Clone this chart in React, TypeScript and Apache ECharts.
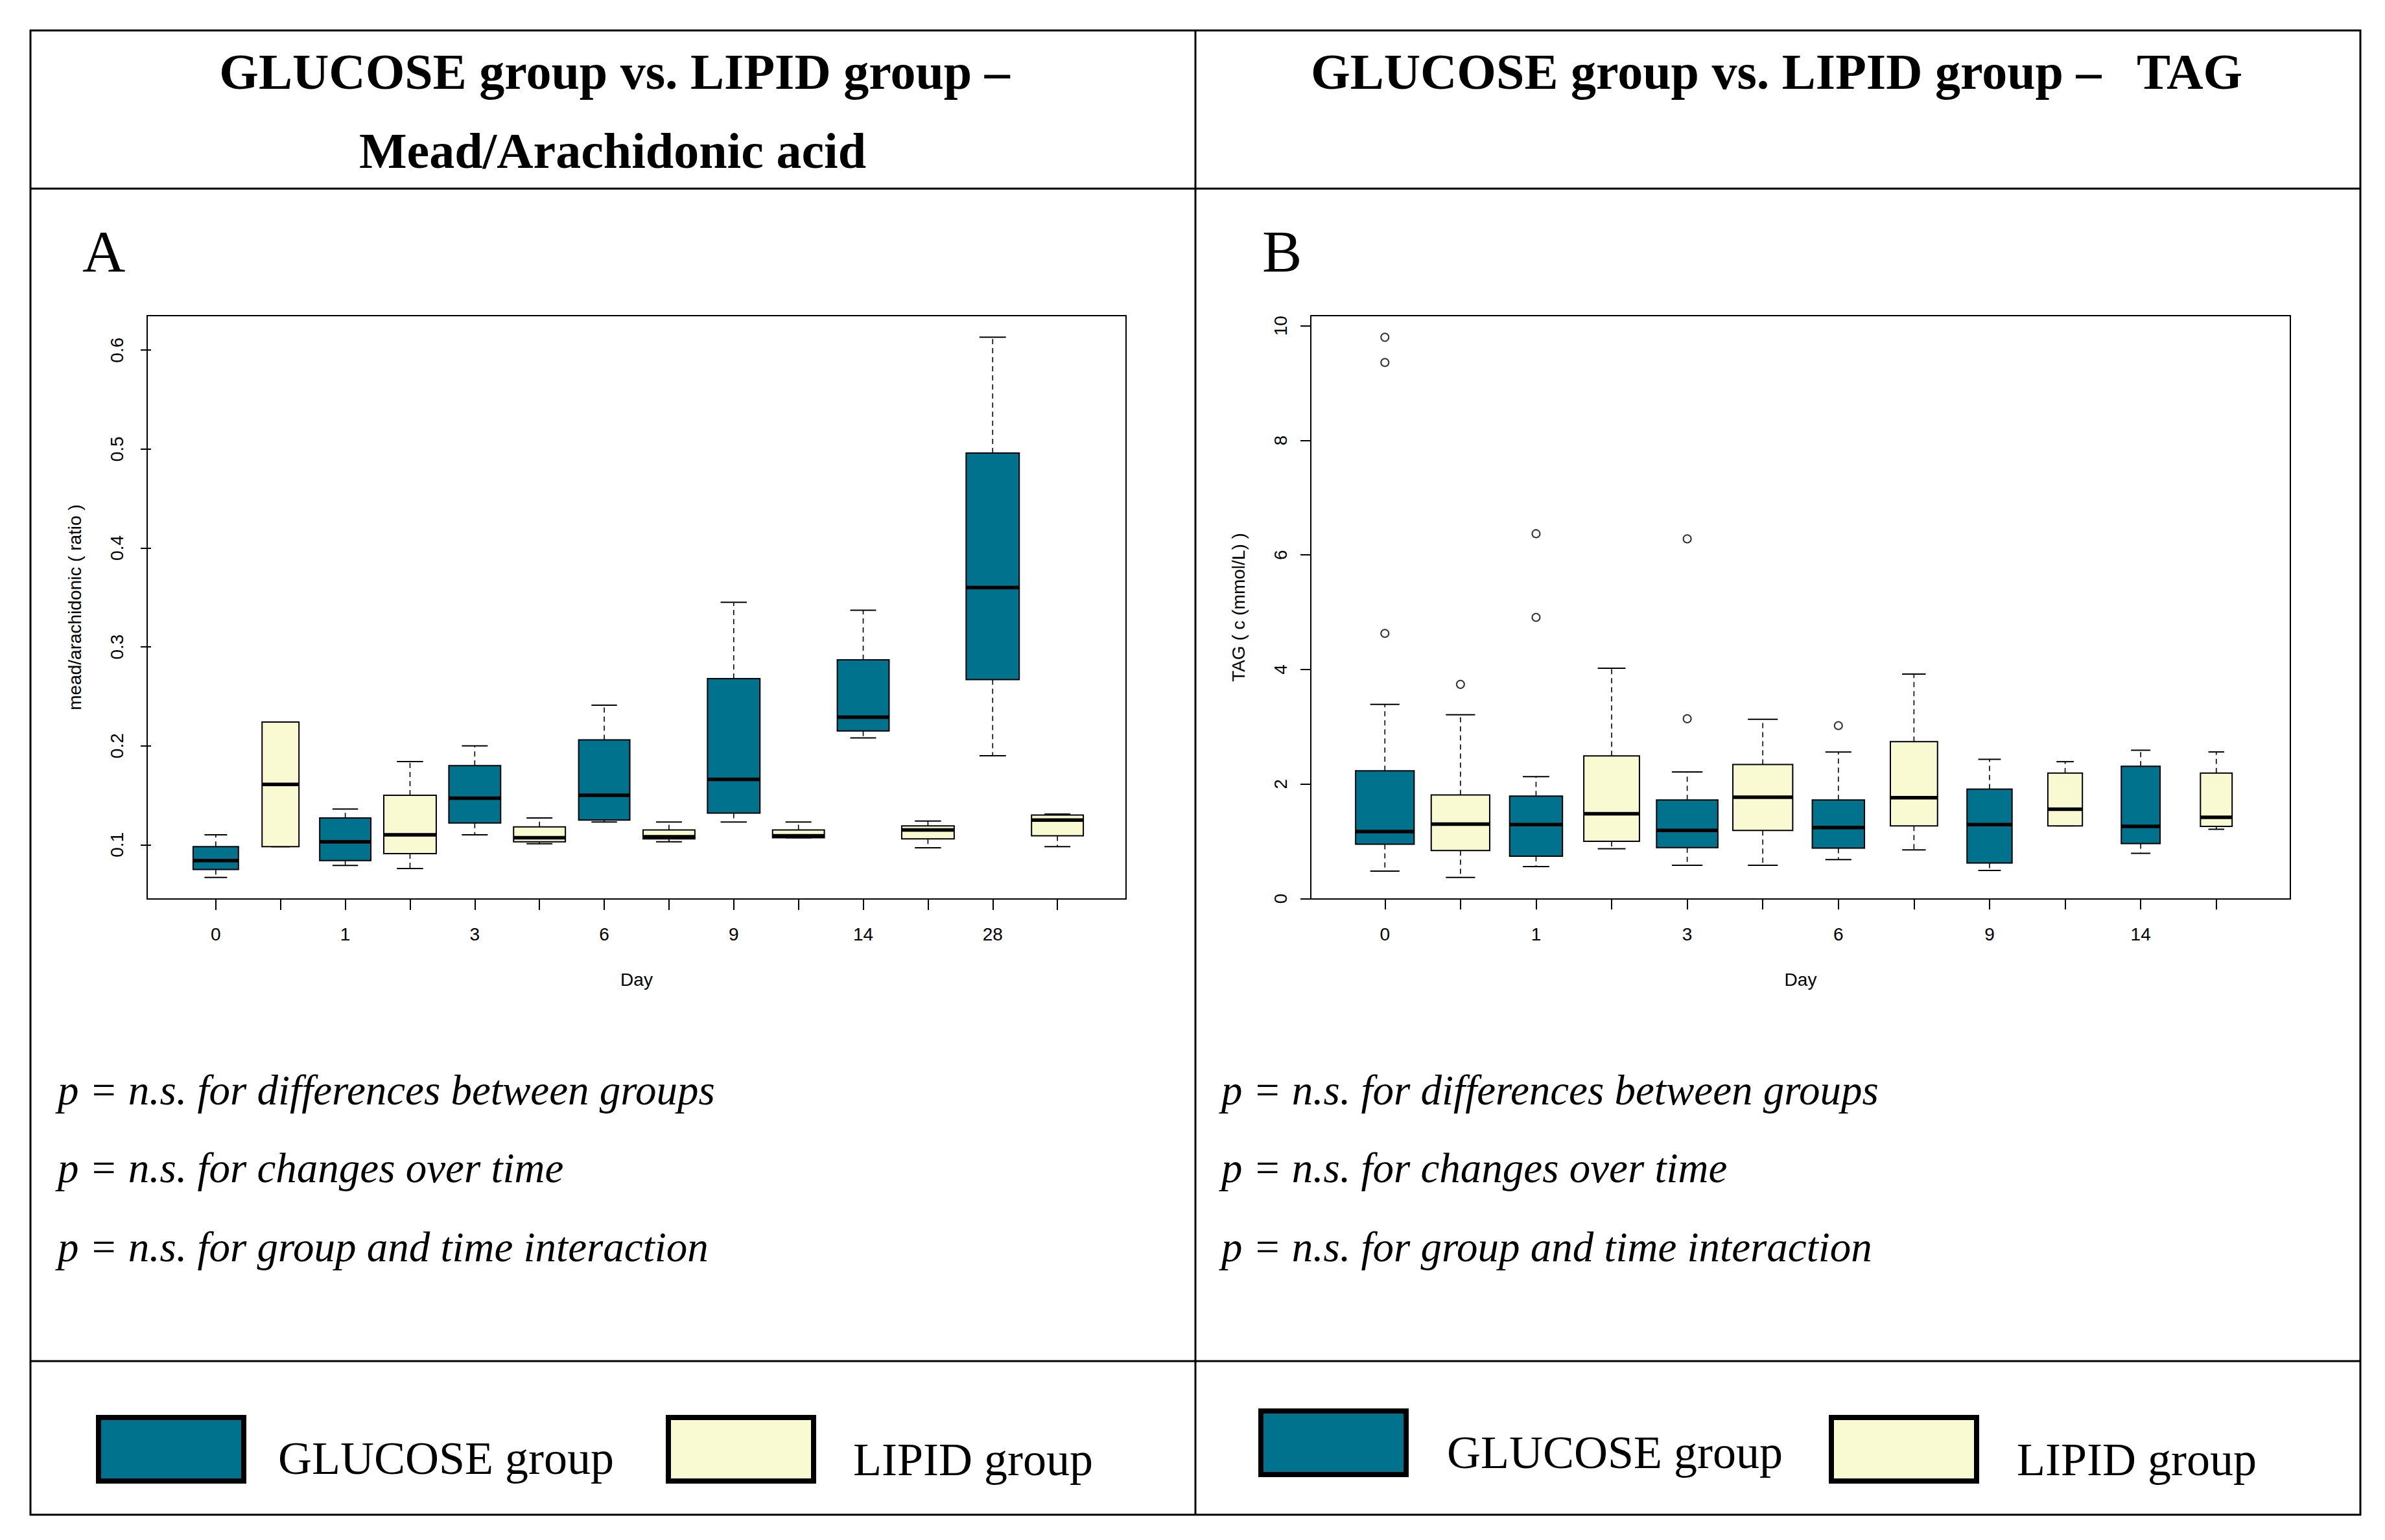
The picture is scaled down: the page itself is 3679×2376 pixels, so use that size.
import React, { useEffect, useRef } from "react";
import * as echarts from "echarts";

// ---------------- DATA ----------------
// Panel A: Mead/Arachidonic acid ratio, box stats [low, q1, median, q3, high]
const DAYS_A = ["0", "1", "3", "6", "9", "14", "28"];
const glucoseA = [
  [0.067, 0.075, 0.084, 0.098, 0.110],
  [0.079, 0.084, 0.103, 0.127, 0.136],
  [0.110, 0.122, 0.147, 0.180, 0.200],
  [0.123, 0.125, 0.150, 0.206, 0.241],
  [0.123, 0.132, 0.166, 0.268, 0.345],
  [0.208, 0.215, 0.229, 0.287, 0.337],
  [0.190, 0.267, 0.360, 0.496, 0.613],
];
const lipidA = [
  [0.098, 0.098, 0.161, 0.224, 0.224],
  [0.076, 0.091, 0.110, 0.150, 0.184],
  [0.101, 0.103, 0.107, 0.118, 0.127],
  [0.103, 0.106, 0.108, 0.115, 0.123],
  [0.107, 0.107, 0.109, 0.115, 0.123],
  [0.097, 0.106, 0.115, 0.119, 0.124],
  [0.098, 0.109, 0.125, 0.130, 0.131],
];
const Y_TICKS_A = [0.1, 0.2, 0.3, 0.4, 0.5, 0.6];

// Panel B: TAG (mmol/L)
const DAYS_B = ["0", "1", "3", "6", "9", "14"];
const glucoseB = [
  [0.48, 0.95, 1.17, 2.23, 3.39],
  [0.56, 0.74, 1.29, 1.79, 2.13],
  [0.58, 0.89, 1.19, 1.72, 2.21],
  [0.68, 0.88, 1.24, 1.72, 2.56],
  [0.49, 0.62, 1.29, 1.91, 2.43],
  [0.79, 0.96, 1.26, 2.31, 2.59],
];
const lipidB = [
  [0.37, 0.84, 1.30, 1.81, 3.21],
  [0.87, 1.00, 1.48, 2.49, 4.02],
  [0.58, 1.19, 1.77, 2.34, 3.13],
  [0.85, 1.27, 1.76, 2.74, 3.92],
  [1.27, 1.27, 1.56, 2.19, 2.39],
  [1.21, 1.26, 1.42, 2.19, 2.56],
];
const glucoseOutB = [[9.80, 9.36, 4.63], [6.37, 4.91], [6.28, 3.14], [3.02], [], []];
const lipidOutB = [[3.74], [], [], [], [], []];
const Y_TICKS_B = [0, 2, 4, 6, 8, 10];

// ---------------- STYLE ----------------
const W = 3679;
const H = 2376;
const TEAL = "#00728D";
const CREAM = "#FAFAD2";
const SANS = "'Liberation Sans Narrow', 'Liberation Sans', Arial, sans-serif";
const SERIF = "'Liberation Serif', 'DejaVu Serif', serif";
// relative box widths (varwidth), in units of box spacing
const BOX_W_A_G = [0.70, 0.79, 0.80, 0.79, 0.81, 0.80, 0.82];
const BOX_W_A_L = [0.57, 0.81, 0.80, 0.80, 0.80, 0.81, 0.80];
const BOX_W_B_G = [0.774, 0.699, 0.811, 0.690, 0.596, 0.513];
const BOX_W_B_L = [0.774, 0.736, 0.792, 0.624, 0.457, 0.419];

function boxData(stats: number[][], widths: number[], offset: number) {
  return stats.map((s, i) => [2 * i + 1 + offset, s[0], s[1], s[2], s[3], s[4], widths[i]]);
}

function yRange(all: number[]) {
  const lo = Math.min(...all);
  const hi = Math.max(...all);
  const pad = 0.04 * (hi - lo);
  return [lo - pad, hi + pad];
}

function boxSeries(name: string, data: number[][], color: string, axisIdx: number) {
  return {
    type: "custom",
    name,
    xAxisIndex: axisIdx,
    yAxisIndex: axisIdx,
    data,
    encode: { x: 0, y: [1, 2, 3, 4, 5] },
    clip: false,
    renderItem: (params: any, api: any) => {
      const x = api.value(0);
      const lo = api.value(1);
      const q1 = api.value(2);
      const med = api.value(3);
      const q3 = api.value(4);
      const hi = api.value(5);
      const w = api.value(6);
      const pLo = api.coord([x, lo]);
      const pQ1 = api.coord([x, q1]);
      const pMed = api.coord([x, med]);
      const pQ3 = api.coord([x, q3]);
      const pHi = api.coord([x, hi]);
      const hw = api.size([w, 0])[0] / 2;
      const cx = pLo[0];
      const dash = { stroke: "#000", lineWidth: 1.6, lineDash: [8, 6] };
      const solid = { stroke: "#000", lineWidth: 2 };
      return {
        type: "group",
        children: [
          { type: "line", shape: { x1: cx, y1: pQ3[1], x2: cx, y2: pHi[1] }, style: dash },
          { type: "line", shape: { x1: cx, y1: pQ1[1], x2: cx, y2: pLo[1] }, style: dash },
          { type: "line", shape: { x1: cx - hw / 2, y1: pHi[1], x2: cx + hw / 2, y2: pHi[1] }, style: solid },
          { type: "line", shape: { x1: cx - hw / 2, y1: pLo[1], x2: cx + hw / 2, y2: pLo[1] }, style: solid },
          {
            type: "rect",
            shape: { x: cx - hw, y: pQ3[1], width: 2 * hw, height: pQ1[1] - pQ3[1] },
            style: { fill: color, stroke: "#000", lineWidth: 2 },
          },
          { type: "line", shape: { x1: cx - hw, y1: pMed[1], x2: cx + hw, y2: pMed[1] }, style: { stroke: "#000", lineWidth: 5.5 } },
        ],
      };
    },
  };
}

function outlierSeries(data: number[][], axisIdx: number) {
  return {
    type: "scatter",
    xAxisIndex: axisIdx,
    yAxisIndex: axisIdx,
    data,
    symbol: "circle",
    symbolSize: 12,
    itemStyle: { color: "rgba(0,0,0,0)", borderColor: "#000", borderWidth: 2 },
    silent: true,
    z: 5,
  };
}

function xAxisCfg(idx: number, n: number, days: string[]) {
  const ticks = Array.from({ length: n }, (_, i) => i + 1);
  const labels = days.map((_, i) => 2 * i + 1);
  return {
    gridIndex: idx,
    type: "value",
    min: 0.5 - 0.04 * n,
    max: n + 0.5 + 0.04 * n,
    axisLine: { show: false },
    splitLine: { show: false },
    axisTick: { show: true, length: 17, lineStyle: { color: "#000", width: 2 }, customValues: ticks },
    axisLabel: {
      customValues: labels,
      formatter: (v: number) => days[Math.round((v - 1) / 2)],
      fontSize: 28,
      color: "#000",
      margin: 40,
      fontFamily: SANS,
    },
    name: "Day",
    nameLocation: "middle",
    nameGap: 110,
    nameTextStyle: { fontSize: 28, color: "#000", fontFamily: SANS },
  };
}

function yAxisCfg(idx: number, range: number[], ticks: number[], name: string, digits: number) {
  return {
    gridIndex: idx,
    type: "value",
    min: range[0],
    max: range[1],
    axisLine: { show: false },
    splitLine: { show: false },
    axisTick: { show: true, length: 16, lineStyle: { color: "#000", width: 2 }, customValues: ticks },
    axisLabel: {
      customValues: ticks,
      rotate: 90,
      formatter: (v: number) => v.toFixed(digits),
      fontSize: 28,
      color: "#000",
      margin: 33,
      fontFamily: SANS,
    },
    name,
    nameLocation: "middle",
    nameRotate: 90,
    nameGap: 98,
    nameTextStyle: { fontSize: 28, color: "#000", fontFamily: SANS },
  };
}

function txt(text: string, x: number, y: number, size: number, opts: any = {}) {
  return {
    type: "text",
    x,
    y,
    silent: true,
    style: {
      text,
      fill: "#000",
      fontSize: size,
      fontFamily: SERIF,
      fontWeight: opts.bold ? "bold" : "normal",
      fontStyle: opts.italic ? "italic" : "normal",
      align: opts.align || "left",
      verticalAlign: "middle",
      textAlign: opts.align || "left",
      textVerticalAlign: "middle",
    },
  };
}

function swatch(x: number, y: number, color: string) {
  return {
    type: "rect",
    silent: true,
    shape: { x, y, width: 224, height: 98 },
    style: { fill: color, stroke: "#000", lineWidth: 8 },
  };
}

export default function App() {
  const ref = useRef<HTMLDivElement>(null);
  useEffect(() => {
    if (!ref.current) return;
    const chart = echarts.init(ref.current, undefined, { renderer: "svg" });

    const allA = [...glucoseA.flat(), ...lipidA.flat()];
    const allB = [...glucoseB.flat(), ...lipidB.flat(), ...glucoseOutB.flat(), ...lipidOutB.flat()];
    const rangeA = yRange(allA);
    const rangeB = yRange(allB);

    const outG = glucoseOutB.flatMap((arr, i) => arr.map((v) => [2 * i + 1, v]));
    const outL = lipidOutB.flatMap((arr, i) => arr.map((v) => [2 * i + 2, v]));

    const pLines = [
      "p = n.s. for differences between groups",
      "p = n.s. for changes over time",
      "p = n.s. for group and time interaction",
    ];
    const pY = [1682, 1802, 1924];

    const graphics: any[] = [
      { type: "rect", silent: true, shape: { x: 47, y: 47, width: 3594, height: 2290 }, style: { fill: "none", stroke: "#000", lineWidth: 3 } },
      { type: "line", silent: true, shape: { x1: 1844, y1: 47, x2: 1844, y2: 2337 }, style: { stroke: "#000", lineWidth: 3 } },
      { type: "line", silent: true, shape: { x1: 47, y1: 291, x2: 3641, y2: 291 }, style: { stroke: "#000", lineWidth: 3 } },
      { type: "line", silent: true, shape: { x1: 47, y1: 2100, x2: 3641, y2: 2100 }, style: { stroke: "#000", lineWidth: 3 } },
      txt("GLUCOSE group vs. LIPID group –", 948, 110, 78, { bold: true, align: "center" }),
      txt("Mead/Arachidonic acid", 945, 232, 78, { bold: true, align: "center" }),
      txt("GLUCOSE group vs. LIPID group –", 2022, 110, 78, { bold: true }),
      txt("TAG", 3296, 110, 78, { bold: true }),
      txt("A", 127, 388, 92),
      txt("B", 1947, 388, 92),
      ...pLines.map((t, i) => txt(t, 89, pY[i], 65, { italic: true })),
      ...pLines.map((t, i) => txt(t, 1884, pY[i], 65, { italic: true })),
      swatch(152, 2187, TEAL),
      swatch(1031, 2187, CREAM),
      txt("GLUCOSE group", 429, 2250, 72),
      txt("LIPID group", 1316, 2252, 72),
      swatch(1945, 2177, TEAL),
      swatch(2825, 2187, CREAM),
      txt("GLUCOSE group", 2232, 2241, 72),
      txt("LIPID group", 3111, 2252, 72),
    ];

    chart.setOption({
      animation: false,
      backgroundColor: "#fff",
      grid: [
        { left: 227, top: 487, width: 1510, height: 900, show: true, borderColor: "#000", borderWidth: 2, backgroundColor: "rgba(0,0,0,0)" },
        { left: 2022, top: 487, width: 1511, height: 900, show: true, borderColor: "#000", borderWidth: 2, backgroundColor: "rgba(0,0,0,0)" },
      ],
      xAxis: [xAxisCfg(0, 14, DAYS_A), xAxisCfg(1, 12, DAYS_B)],
      yAxis: [
        yAxisCfg(0, rangeA, Y_TICKS_A, "mead/arachidonic ( ratio )", 1),
        yAxisCfg(1, rangeB, Y_TICKS_B, "TAG ( c (mmol/L) )", 0),
      ],
      series: [
        boxSeries("GLUCOSE group", boxData(glucoseA, BOX_W_A_G, 0), TEAL, 0),
        boxSeries("LIPID group", boxData(lipidA, BOX_W_A_L, 1), CREAM, 0),
        boxSeries("GLUCOSE group", boxData(glucoseB, BOX_W_B_G, 0), TEAL, 1),
        boxSeries("LIPID group", boxData(lipidB, BOX_W_B_L, 1), CREAM, 1),
        outlierSeries(outG, 1),
        outlierSeries(outL, 1),
      ],
      graphic: { elements: graphics },
    });
    return () => chart.dispose();
  }, []);
  return (
    <div
      ref={ref}
      style={{ position: "absolute", left: 0, top: 0, width: W, height: H, background: "#fff" }}
    />
  );
}
